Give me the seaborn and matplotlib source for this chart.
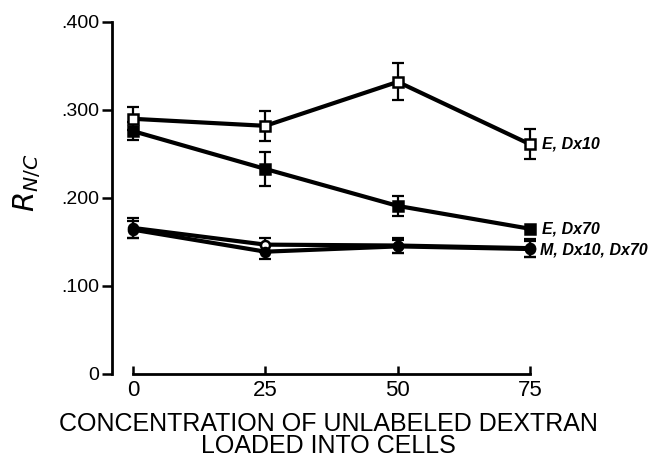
import pandas as pd
import seaborn as sns
import matplotlib.pyplot as plt

# concentration of unlabeled dextran loaded into cells
conc = [0, 25, 50, 75]

# R N/C values
e_dx10 = [0.290, 0.282, 0.332, 0.261]
e_dx10_err = [0.013, 0.017, 0.021, 0.017]
e_dx70 = [0.276, 0.233, 0.191, 0.165]
e_dx70_err = [0.010, 0.019, 0.011, 0.0]
m_dx10 = [0.166, 0.147, 0.146, 0.143]
m_dx10_err = [0.011, 0.008, 0.008, 0.010]
m_dx70 = [0.164, 0.139, 0.145, 0.142]
m_dx70_err = [0.010, 0.008, 0.007, 0.009]

series_names = ['E, Dx10', 'E, Dx70', 'M, Dx10', 'M, Dx70']
series_vals = [e_dx10, e_dx70, m_dx10, m_dx70]
series_errs = [e_dx10_err, e_dx70_err, m_dx10_err, m_dx70_err]
series_markers = ['s', 's', 'o', 'o']
series_faces = ['white', 'black', 'white', 'black']

yticks = [0, 0.1, 0.2, 0.3, 0.4]
ytick_labels = ['0', '.100', '.200', '.300', '.400']

rows = []
for name, vals, errs in zip(series_names, series_vals, series_errs):
    for c, v, e in zip(conc, vals, errs):
        rows.append({'series': name, 'conc': c, 'rnc': v, 'err': e})
df = pd.DataFrame(rows)

sns.set_style('ticks')
plt.rcParams['font.family'] = ['Liberation Sans', 'DejaVu Sans']
plt.rcParams['text.color'] = 'black'
plt.rcParams['axes.labelcolor'] = 'black'
plt.rcParams['xtick.color'] = 'black'
plt.rcParams['ytick.color'] = 'black'
plt.rcParams['axes.edgecolor'] = 'black'

fig = plt.figure(figsize=(6.58, 4.65), dpi=100)
ax = fig.add_axes([0.1702, 0.1957, 0.658, 0.757])

for name, marker, face in zip(series_names, series_markers, series_faces):
    sub = df[df['series'] == name]
    ax.errorbar(sub['conc'], sub['rnc'], yerr=sub['err'], fmt='none',
                ecolor='black', elinewidth=1.6, capsize=4, capthick=1.6, zorder=2)
    sns.lineplot(data=sub, x='conc', y='rnc', ax=ax, color='black', linewidth=3.0,
                 marker=marker, markersize=6.5, markerfacecolor=face,
                 markeredgecolor='black', markeredgewidth=1.8, zorder=3)

ax.set_xlim(-3.97, 77.8)
ax.set_ylim(0, 0.4)
ax.set_xticks(conc)
ax.set_xticklabels([str(c) for c in conc], fontsize=16)
ax.set_yticks(yticks)
ax.set_yticklabels(ytick_labels, fontsize=14)
ax.tick_params(axis='x', direction='in', length=6, width=1.8, pad=4)
ax.tick_params(axis='y', direction='out', length=7, width=1.8, pad=2)
for side in ['top', 'right']:
    ax.spines[side].set_visible(False)
ax.spines['left'].set_linewidth(2)
ax.spines['bottom'].set_linewidth(2)
ax.spines['bottom'].set_bounds(0, 75)

ax.set_xlabel('CONCENTRATION OF UNLABELED DEXTRAN\nLOADED INTO CELLS',
              fontsize=18, linespacing=0.92, labelpad=8)
ax.set_ylabel(r'$R_{N/C}$', fontsize=21)
ax.yaxis.set_label_coords(-0.16, 0.543)

lab_kw = dict(fontsize=11.5, style='italic', fontweight='bold', va='center', clip_on=False)
ax.text(77.3, e_dx10[-1], 'E, Dx10', **lab_kw)
ax.text(77.3, e_dx70[-1], 'E, Dx70', **lab_kw)
ax.text(76.9, m_dx10[-1] - 0.002, 'M, Dx10, Dx70', **lab_kw)

fig.savefig('out.png', dpi=100)
